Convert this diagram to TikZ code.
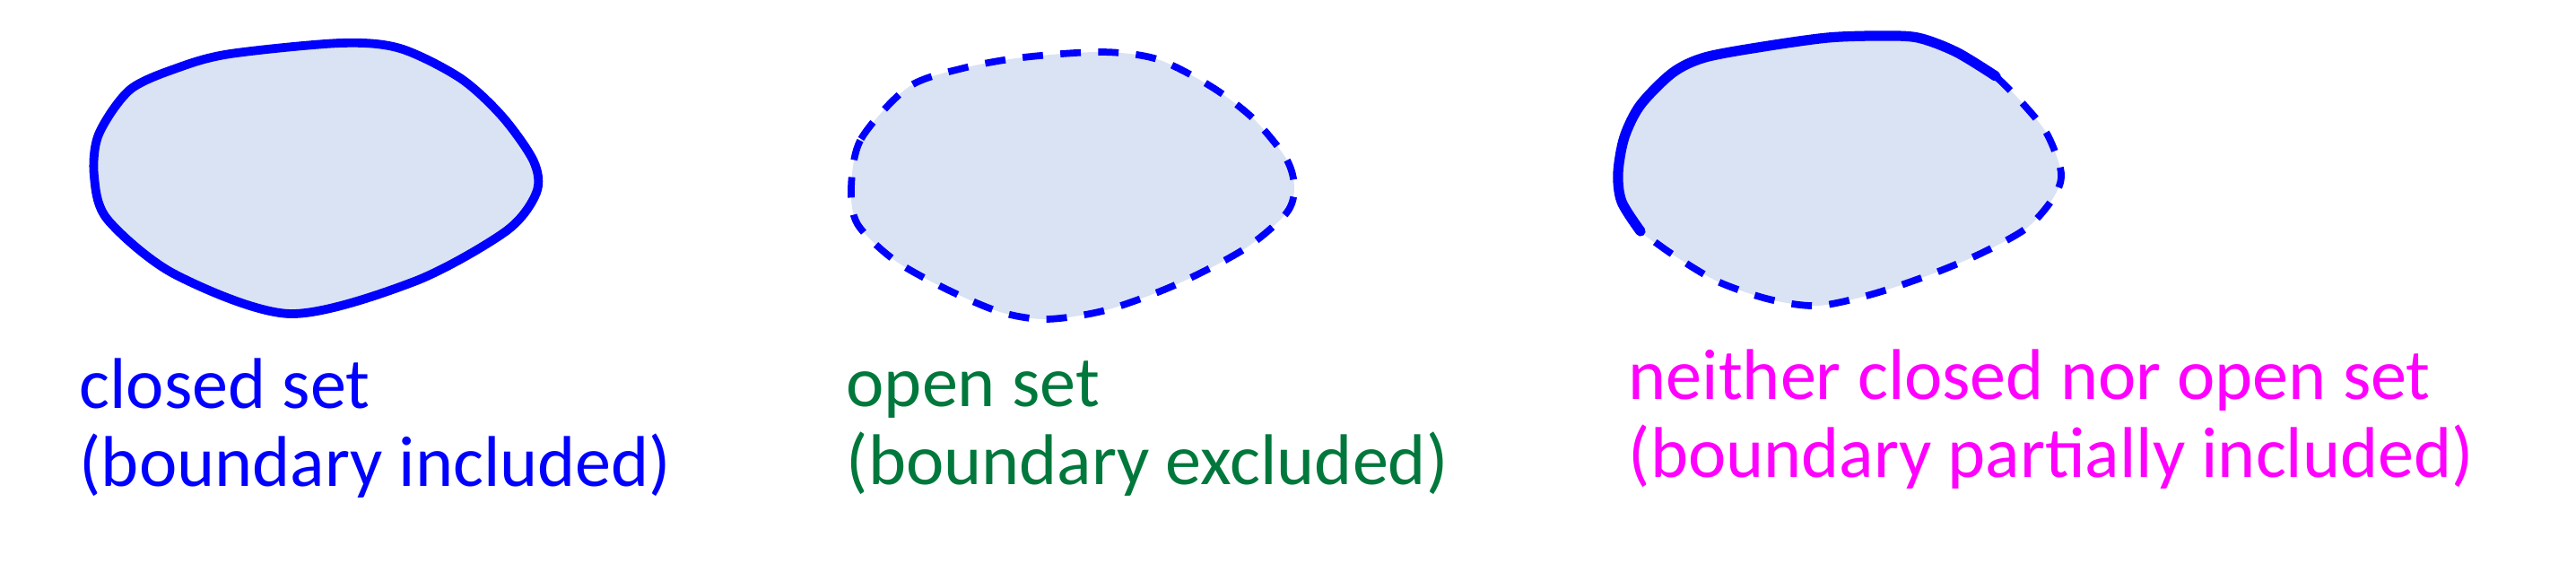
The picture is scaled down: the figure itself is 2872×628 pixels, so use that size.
\documentclass[tikz,border=0pt]{standalone}
\usepackage{fontspec}
\setmainfont{Carlito}
\usepackage{tikz}
\definecolor{setfill}{HTML}{DAE3F3}
\definecolor{setgreen}{HTML}{00783C}
\definecolor{setmagenta}{HTML}{FF00FF}
\pgfdeclarelayer{fill layer}
\pgfdeclarelayer{nodelayer}
\pgfsetlayers{fill layer,main,nodelayer}
\tikzstyle{region}=[fill=setfill]
\tikzstyle{included}=[draw=blue,line width=2.8pt,line join=round,line cap=round]
\tikzstyle{excluded}=[draw=blue,line width=2.2pt,dash pattern=on 6.5pt off 5.5pt]
\tikzstyle{settext}=[inner sep=0pt,align=left,anchor=base west,font=\fontsize{22.8}{25}\selectfont]

\begin{document}
\begin{tikzpicture}[x=0.01cm,y=-0.01cm]
	\useasboundingbox (0,0) rectangle (2872,628);
	\begin{pgfonlayer}{nodelayer}
		\node [style=settext,text=blue] (0) at (88, 543) {closed set\\(boundary included)};
		\node [style=settext,text=setgreen] (1) at (943, 541) {open set\\(boundary excluded)};
		\node [style=settext,text=setmagenta] (2) at (1815, 533) {neither closed nor open set\\(boundary partially included)};
	\end{pgfonlayer}
	% closed set
	\begin{pgfonlayer}{fill layer}
		\fill [style=region] plot [smooth cycle] coordinates {(105,197) (110,150) (145,100) (200,75) (257,60) (380,48) (446,54) (513,87) (560,130) (595,180) (598,215) (564,258) (462,314) (323,350) (195,306) (120,245)};
	\end{pgfonlayer}
	\draw [style=included] plot [smooth cycle] coordinates {(105,197) (110,150) (145,100) (200,75) (257,60) (380,48) (446,54) (513,87) (560,130) (595,180) (598,215) (564,258) (462,314) (323,350) (195,306) (120,245)};
	% open set
	\begin{pgfonlayer}{fill layer}
		\fill [style=region] plot [smooth cycle] coordinates {(949,209) (960,155) (1013,97) (1074,76) (1141,64) (1228,58) (1290,66) (1351,97) (1398,133) (1434,177) (1443,209) (1434,238) (1387,278) (1310,318) (1233,346) (1167,356) (1115,348) (1054,322) (997,290) (956,250)};
	\end{pgfonlayer}
	\draw [style=excluded] plot [smooth cycle] coordinates {(949,209) (960,155) (1013,97) (1074,76) (1141,64) (1228,58) (1290,66) (1351,97) (1398,133) (1434,177) (1443,209) (1434,238) (1387,278) (1310,318) (1233,346) (1167,356) (1115,348) (1054,322) (997,290) (956,250)};
	% neither closed nor open
	\begin{pgfonlayer}{fill layer}
		\fill [style=region] plot [smooth cycle] coordinates {(1829,258) (1808,225) (1804,193) (1811,153) (1829,117) (1865,81) (1901,64) (1966,52) (2038,42) (2095,40) (2138,42) (2181,58) (2225,85) (2253,113) (2282,149) (2298,193) (2289,221) (2260,254) (2210,282) (2153,306) (2088,328) (2027,341) (1973,334) (1915,314) (1865,284)};
	\end{pgfonlayer}
	\draw [style=included,line width=3.2pt] plot [smooth] coordinates {(1829,258) (1808,225) (1804,193) (1811,153) (1829,117) (1865,81) (1901,64) (1966,52) (2038,42) (2095,40) (2138,42) (2181,58) (2225,85)};
	\draw [style=excluded] plot [smooth] coordinates {(2225,85) (2253,113) (2282,149) (2298,193) (2289,221) (2260,254) (2210,282) (2153,306) (2088,328) (2027,341) (1973,334) (1915,314) (1865,284) (1829,258)};
\end{tikzpicture}
\end{document}
